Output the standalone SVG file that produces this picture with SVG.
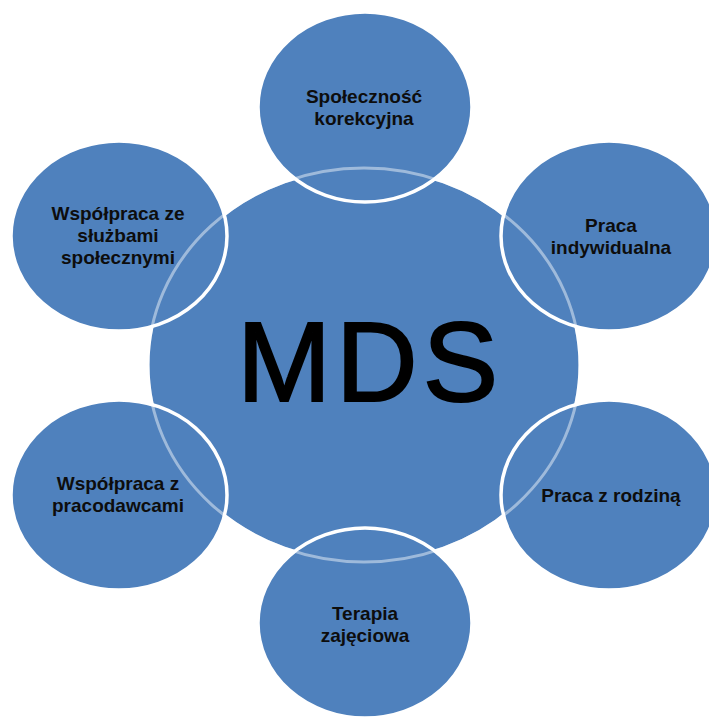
<svg xmlns="http://www.w3.org/2000/svg" width="709" height="718" viewBox="0 0 709 718">
  <style>
    .disc { fill: #4F81BD; stroke: #FFFFFF; stroke-width: 3.5; }
    .hub { fill: #4F81BD; stroke: #FFFFFF; stroke-width: 3; }
    .ring { fill: none; stroke: #FFFFFF; stroke-width: 3; stroke-opacity: 0.45; }
    .label { font-family: "Liberation Sans", Arial, sans-serif; font-weight: bold; font-size: 19px; fill: #0D0D0D; text-anchor: middle; }
    .title { font-family: "Liberation Sans", Arial, sans-serif; font-size: 113px; letter-spacing: 5px; fill: #000000; stroke: #000000; stroke-width: 2; text-anchor: middle; }
  </style>
  <rect width="709" height="718" fill="#FFFFFF"/>

  <!-- central hub -->
  <g id="node-mds">
    <ellipse class="hub" cx="364" cy="365" rx="216" ry="197"/>
    <text class="title" x="370" y="401">MDS</text>
  </g>

  <!-- satellites -->
  <g id="node-spolecznosc">
    <ellipse class="disc" cx="365" cy="107" rx="107" ry="95"/>
    <text class="label" x="364" y="103">Społeczność</text>
    <text class="label" x="364" y="125">korekcyjna</text>
  </g>
  <g id="node-praca-indywidualna">
    <ellipse class="disc" cx="609" cy="236" rx="108" ry="95"/>
    <text class="label" x="611" y="232">Praca</text>
    <text class="label" x="611" y="254">indywidualna</text>
  </g>
  <g id="node-praca-z-rodzina">
    <ellipse class="disc" cx="609" cy="495" rx="108" ry="95"/>
    <text class="label" x="611" y="502">Praca z rodziną</text>
  </g>
  <g id="node-terapia">
    <ellipse class="disc" cx="365" cy="623" rx="107" ry="95"/>
    <text class="label" x="365" y="620">Terapia</text>
    <text class="label" x="365" y="642">zajęciowa</text>
  </g>
  <g id="node-pracodawcy">
    <ellipse class="disc" cx="119" cy="495" rx="108" ry="95"/>
    <text class="label" x="118" y="490">Współpraca z</text>
    <text class="label" x="118" y="512">pracodawcami</text>
  </g>
  <g id="node-sluzby">
    <ellipse class="disc" cx="119" cy="236" rx="108" ry="95"/>
    <text class="label" x="118" y="220">Współpraca ze</text>
    <text class="label" x="118" y="242">służbami</text>
    <text class="label" x="118" y="264">społecznymi</text>
  </g>

  <!-- hub outline showing faintly through the satellites -->
  <g id="connectors">
    <ellipse class="ring" cx="364" cy="365" rx="216" ry="197"/>
  </g>
</svg>
